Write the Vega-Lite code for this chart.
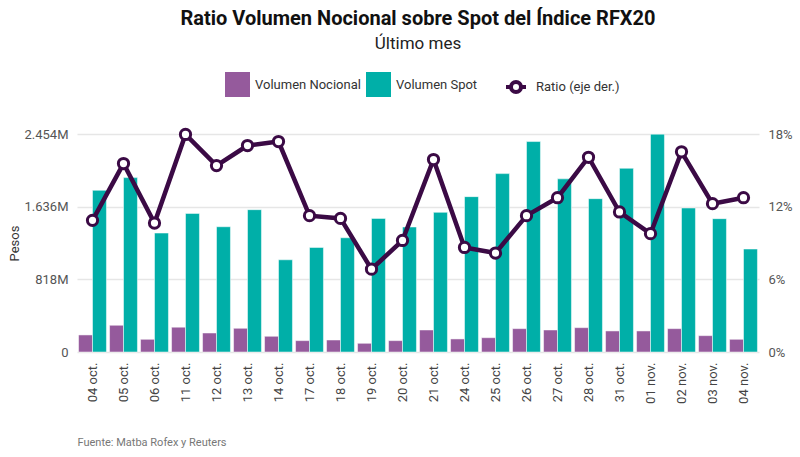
{
  "$schema": "https://vega.github.io/schema/vega-lite/v6.json",
  "width": 682,
  "height": 218,
  "autosize": {"type": "none"},
  "padding": {"left": 77, "top": 134, "right": 41, "bottom": 105},
  "config": {
    "font": "Roboto",
    "view": {"stroke": null}
  },
  "title": {
    "text": "Ratio Volumen Nocional sobre Spot del Índice RFX20",
    "subtitle": "Último mes",
    "fontSize": 20,
    "fontWeight": "bold",
    "color": "#111111",
    "subtitleFontSize": 17,
    "subtitleColor": "#222222",
    "subtitlePadding": 7,
    "anchor": "middle",
    "offset": 20
  },
  "datasets": {
    "volumen": [
      {"fecha": "04 oct.", "serie": "Volumen Nocional", "valor": 192},
      {"fecha": "04 oct.", "serie": "Volumen Spot", "valor": 1820},
      {"fecha": "05 oct.", "serie": "Volumen Nocional", "valor": 301},
      {"fecha": "05 oct.", "serie": "Volumen Spot", "valor": 1963},
      {"fecha": "06 oct.", "serie": "Volumen Nocional", "valor": 143},
      {"fecha": "06 oct.", "serie": "Volumen Spot", "valor": 1339},
      {"fecha": "11 oct.", "serie": "Volumen Nocional", "valor": 279},
      {"fecha": "11 oct.", "serie": "Volumen Spot", "valor": 1560},
      {"fecha": "12 oct.", "serie": "Volumen Nocional", "valor": 214},
      {"fecha": "12 oct.", "serie": "Volumen Spot", "valor": 1410},
      {"fecha": "13 oct.", "serie": "Volumen Nocional", "valor": 267},
      {"fecha": "13 oct.", "serie": "Volumen Spot", "valor": 1602},
      {"fecha": "14 oct.", "serie": "Volumen Nocional", "valor": 177},
      {"fecha": "14 oct.", "serie": "Volumen Spot", "valor": 1038},
      {"fecha": "17 oct.", "serie": "Volumen Nocional", "valor": 128},
      {"fecha": "17 oct.", "serie": "Volumen Spot", "valor": 1177},
      {"fecha": "18 oct.", "serie": "Volumen Nocional", "valor": 135},
      {"fecha": "18 oct.", "serie": "Volumen Spot", "valor": 1286},
      {"fecha": "19 oct.", "serie": "Volumen Nocional", "valor": 98},
      {"fecha": "19 oct.", "serie": "Volumen Spot", "valor": 1504},
      {"fecha": "20 oct.", "serie": "Volumen Nocional", "valor": 128},
      {"fecha": "20 oct.", "serie": "Volumen Spot", "valor": 1407},
      {"fecha": "21 oct.", "serie": "Volumen Nocional", "valor": 248},
      {"fecha": "21 oct.", "serie": "Volumen Spot", "valor": 1572},
      {"fecha": "24 oct.", "serie": "Volumen Nocional", "valor": 147},
      {"fecha": "24 oct.", "serie": "Volumen Spot", "valor": 1749},
      {"fecha": "25 oct.", "serie": "Volumen Nocional", "valor": 161},
      {"fecha": "25 oct.", "serie": "Volumen Spot", "valor": 2008},
      {"fecha": "26 oct.", "serie": "Volumen Nocional", "valor": 263},
      {"fecha": "26 oct.", "serie": "Volumen Spot", "valor": 2369},
      {"fecha": "27 oct.", "serie": "Volumen Nocional", "valor": 248},
      {"fecha": "27 oct.", "serie": "Volumen Spot", "valor": 1949},
      {"fecha": "28 oct.", "serie": "Volumen Nocional", "valor": 274},
      {"fecha": "28 oct.", "serie": "Volumen Spot", "valor": 1726},
      {"fecha": "31 oct.", "serie": "Volumen Nocional", "valor": 237},
      {"fecha": "31 oct.", "serie": "Volumen Spot", "valor": 2068},
      {"fecha": "01 nov.", "serie": "Volumen Nocional", "valor": 237},
      {"fecha": "01 nov.", "serie": "Volumen Spot", "valor": 2452},
      {"fecha": "02 nov.", "serie": "Volumen Nocional", "valor": 263},
      {"fecha": "02 nov.", "serie": "Volumen Spot", "valor": 1621},
      {"fecha": "03 nov.", "serie": "Volumen Nocional", "valor": 184},
      {"fecha": "03 nov.", "serie": "Volumen Spot", "valor": 1501},
      {"fecha": "04 nov.", "serie": "Volumen Nocional", "valor": 143},
      {"fecha": "04 nov.", "serie": "Volumen Spot", "valor": 1159}
    ],
    "ratio": [
      {"fecha": "04 oct.", "ratio": 0.1087},
      {"fecha": "05 oct.", "ratio": 0.1556},
      {"fecha": "06 oct.", "ratio": 0.1065},
      {"fecha": "11 oct.", "ratio": 0.1796},
      {"fecha": "12 oct.", "ratio": 0.1539},
      {"fecha": "13 oct.", "ratio": 0.1705},
      {"fecha": "14 oct.", "ratio": 0.1738},
      {"fecha": "17 oct.", "ratio": 0.1126},
      {"fecha": "18 oct.", "ratio": 0.1103},
      {"fecha": "19 oct.", "ratio": 0.0684},
      {"fecha": "20 oct.", "ratio": 0.0921},
      {"fecha": "21 oct.", "ratio": 0.1589},
      {"fecha": "24 oct.", "ratio": 0.0863},
      {"fecha": "25 oct.", "ratio": 0.0817},
      {"fecha": "26 oct.", "ratio": 0.1126},
      {"fecha": "27 oct.", "ratio": 0.1274},
      {"fecha": "28 oct.", "ratio": 0.1608},
      {"fecha": "31 oct.", "ratio": 0.1156},
      {"fecha": "01 nov.", "ratio": 0.0977},
      {"fecha": "02 nov.", "ratio": 0.1653},
      {"fecha": "03 nov.", "ratio": 0.1225},
      {"fecha": "04 nov.", "ratio": 0.1274}
    ]
  },
  "encoding": {
    "x": {
      "field": "fecha",
      "type": "nominal",
      "scale": {
        "domain": ["04 oct.", "05 oct.", "06 oct.", "11 oct.", "12 oct.", "13 oct.", "14 oct.", "17 oct.", "18 oct.", "19 oct.", "20 oct.", "21 oct.", "24 oct.", "25 oct.", "26 oct.", "27 oct.", "28 oct.", "31 oct.", "01 nov.", "02 nov.", "03 nov.", "04 nov."],
        "paddingInner": 0.1,
        "paddingOuter": 0.05
      },
      "axis": {
        "labelAngle": 270,
        "labelPadding": 10,
        "labelFontSize": 13,
        "labelColor": "#444444",
        "ticks": false,
        "domain": false,
        "title": "Fuente: Matba Rofex y Reuters",
        "titleX": 0,
        "titleY": 90,
        "titleAlign": "left",
        "titleBaseline": "middle",
        "titleAngle": 0,
        "titleFontSize": 11,
        "titleFontWeight": "normal",
        "titleColor": "#777777"
      }
    }
  },
  "layer": [
    {
      "data": {"name": "volumen"},
      "mark": {"type": "bar", "stroke": "white", "strokeWidth": 0.5},
      "encoding": {
        "xOffset": {"field": "serie", "type": "nominal", "scale": {"domain": ["Volumen Nocional", "Volumen Spot"]}},
        "y": {
          "field": "valor",
          "type": "quantitative",
          "scale": {"domain": [0, 2454], "nice": false},
          "axis": {
            "values": [0, 818, 1636, 2454],
            "labelExpr": "datum.value == 0 ? '0' : replace(format(datum.value, ','), ',', '.') + 'M'",
            "title": "Pesos",
            "grid": true,
            "gridColor": "#e6e6e6",
            "gridWidth": 1.5,
            "domain": false,
            "ticks": false,
            "labelPadding": 9,
            "labelFontSize": 13,
            "labelColor": "#555555",
            "titleFontSize": 13,
            "titleFontWeight": "normal",
            "titleColor": "#333333",
            "titleX": -63,
            "titleBaseline": "middle"
          }
        },
        "color": {
          "field": "serie",
          "type": "nominal",
          "scale": {"domain": ["Volumen Nocional", "Volumen Spot"], "range": ["#955A9C", "#00AFA8"]},
          "legend": {
            "orient": "none",
            "legendX": 148,
            "legendY": -62,
            "direction": "horizontal",
            "title": null,
            "symbolType": "square",
            "symbolSize": 625,
            "symbolStrokeWidth": 0,
            "labelFontSize": 13,
            "labelColor": "#333333",
            "labelOffset": 5,
            "columnPadding": 5
          }
        }
      }
    },
    {
      "data": {"name": "ratio"},
      "encoding": {
        "y": {
          "field": "ratio",
          "type": "quantitative",
          "scale": {"domain": [0, 0.18], "nice": false},
          "axis": {
            "orient": "right",
            "values": [0, 0.06, 0.12, 0.18],
            "format": ".0%",
            "title": null,
            "grid": false,
            "domain": false,
            "ticks": false,
            "labelPadding": 9,
            "labelFontSize": 13,
            "labelColor": "#555555"
          }
        }
      },
      "layer": [
        {
          "mark": {"type": "line", "color": "#3B0A45", "strokeWidth": 4.5}
        },
        {
          "mark": {"type": "point", "filled": true, "fill": "white", "strokeWidth": 3, "size": 105, "opacity": 1},
          "encoding": {
            "stroke": {
              "datum": "Ratio (eje der.)",
              "scale": {"range": ["#3B0A45"]},
              "legend": {
                "orient": "none",
                "legendX": 427,
                "legendY": -59,
                "title": null,
                "symbolType": "M-1,0H-0.5M0.5,0H1M0.5,0A0.5,0.5,0,1,1,-0.5,0A0.5,0.5,0,1,1,0.5,0Z",
                "symbolSize": 400,
                "symbolStrokeWidth": 4,
                "symbolFillColor": "white",
                "labelFontSize": 13,
                "labelColor": "#333333",
                "labelOffset": 8
              }
            }
          }
        }
      ]
    }
  ],
  "resolve": {"scale": {"y": "independent"}}
}
